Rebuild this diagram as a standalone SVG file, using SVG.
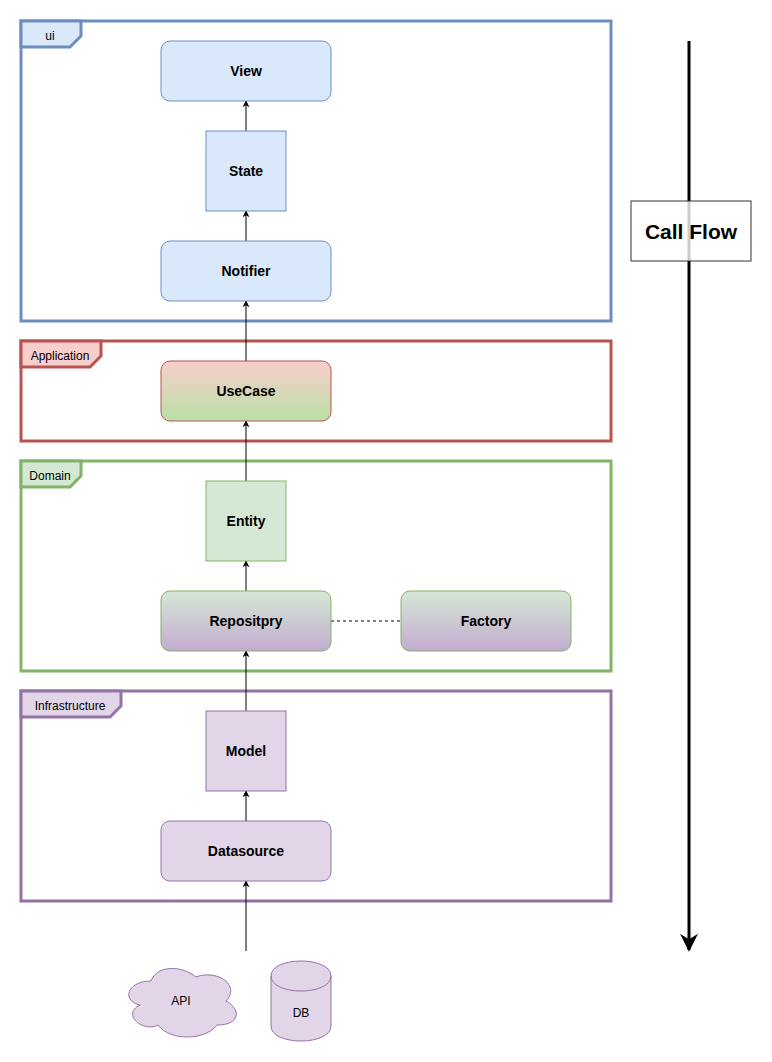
<svg xmlns="http://www.w3.org/2000/svg" width="772" height="1062" viewBox="0 0 772 1062">
<style>
.t{font-family:"Liberation Sans",Arial,sans-serif;font-size:14px;font-weight:bold;fill:#000;text-anchor:middle;dominant-baseline:central}
.tab{font-family:"Liberation Sans",Arial,sans-serif;font-size:12px;fill:#000;text-anchor:middle;dominant-baseline:central}
.n{font-family:"Liberation Sans",Arial,sans-serif;font-size:12px;fill:#000;text-anchor:middle;dominant-baseline:central}
.c{stroke:#000;stroke-width:1;fill:none}
</style>
<defs>
<marker id="ar" viewBox="0 0 10 10" refX="9" refY="5" markerWidth="7" markerHeight="7" markerUnits="userSpaceOnUse" orient="auto">
<path d="M0,0 L10,5 L0,10 L3,5 Z" fill="#000"/>
</marker>
<marker id="big" viewBox="0 0 10 10" refX="9" refY="5" markerWidth="18" markerHeight="18" markerUnits="userSpaceOnUse" orient="auto">
<path d="M0,0 L10,5 L0,10 L3,5 Z" fill="#000"/>
</marker>
<linearGradient id="gUse" x1="0" y1="0" x2="0" y2="1"><stop offset="0" stop-color="#f8cecc"/><stop offset="1" stop-color="#b9e0a5"/></linearGradient>
<linearGradient id="gRep" x1="0" y1="0" x2="0" y2="1"><stop offset="0" stop-color="#d5e8d4"/><stop offset="1" stop-color="#c3abd0"/></linearGradient>
</defs>

<g id="frame-ui">
<rect x="21" y="21" width="590" height="300" fill="none" stroke="#6c8ebf" stroke-width="3"/>
<path d="M21,21 H81 V36 L70,47 H21 Z" fill="#dae8fc" stroke="#6c8ebf" stroke-width="3"/>
<text class="tab" x="50" y="36">ui</text>
</g>
<g id="frame-application">
<rect x="21" y="341" width="590" height="100" fill="none" stroke="#b85450" stroke-width="3"/>
<path d="M21,341 H101 V356 L90,367 H21 Z" fill="#f8cecc" stroke="#b85450" stroke-width="3"/>
<text class="tab" x="60" y="356">Application</text>
</g>
<g id="frame-domain">
<rect x="21" y="461" width="590" height="210" fill="none" stroke="#82b366" stroke-width="3"/>
<path d="M21,461 H81 V476 L70,487 H21 Z" fill="#d5e8d4" stroke="#82b366" stroke-width="3"/>
<text class="tab" x="50" y="476">Domain</text>
</g>
<g id="frame-infrastructure">
<rect x="21" y="691" width="590" height="210" fill="none" stroke="#9673a6" stroke-width="3"/>
<path d="M21,691 H121 V706 L110,717 H21 Z" fill="#e1d5e7" stroke="#9673a6" stroke-width="3"/>
<text class="tab" x="70" y="706">Infrastructure</text>
</g>

<g id="connectors">
<line class="c" x1="246" y1="131" x2="246" y2="101" marker-end="url(#ar)"/>
<line class="c" x1="246" y1="241" x2="246" y2="211" marker-end="url(#ar)"/>
<line class="c" x1="246" y1="361" x2="246" y2="301" marker-end="url(#ar)"/>
<line class="c" x1="246" y1="481" x2="246" y2="421" marker-end="url(#ar)"/>
<line class="c" x1="246" y1="591" x2="246" y2="561" marker-end="url(#ar)"/>
<line class="c" x1="246" y1="711" x2="246" y2="651" marker-end="url(#ar)"/>
<line class="c" x1="246" y1="821" x2="246" y2="791" marker-end="url(#ar)"/>
<line class="c" x1="246" y1="951" x2="246" y2="881" marker-end="url(#ar)"/>
<line class="c" x1="331" y1="621" x2="401" y2="621" stroke-dasharray="3,3"/>
<line x1="689" y1="41" x2="689" y2="950" stroke="#000" stroke-width="3" marker-end="url(#big)"/>
</g>

<g id="view"><rect x="161" y="41" width="170" height="60" rx="9" fill="#dae8fc" stroke="#6c8ebf"/><text class="t" x="246" y="71">View</text></g>
<g id="state"><rect x="206" y="131" width="80" height="80" fill="#dae8fc" stroke="#6c8ebf"/><text class="t" x="246" y="171">State</text></g>
<g id="notifier"><rect x="161" y="241" width="170" height="60" rx="9" fill="#dae8fc" stroke="#6c8ebf"/><text class="t" x="246" y="271">Notifier</text></g>
<g id="usecase"><rect x="161" y="361" width="170" height="60" rx="9" fill="url(#gUse)" stroke="#b85450"/><text class="t" x="246" y="391">UseCase</text></g>
<g id="entity"><rect x="206" y="481" width="80" height="80" fill="#d5e8d4" stroke="#82b366"/><text class="t" x="246" y="521">Entity</text></g>
<g id="repository"><rect x="161" y="591" width="170" height="60" rx="9" fill="url(#gRep)" stroke="#82b366"/><text class="t" x="246" y="621">Repositpry</text></g>
<g id="factory"><rect x="401" y="591" width="170" height="60" rx="9" fill="url(#gRep)" stroke="#82b366"/><text class="t" x="486" y="621">Factory</text></g>
<g id="model"><rect x="206" y="711" width="80" height="80" fill="#e1d5e7" stroke="#9673a6"/><text class="t" x="246" y="751">Model</text></g>
<g id="datasource"><rect x="161" y="821" width="170" height="60" rx="9" fill="#e1d5e7" stroke="#9673a6"/><text class="t" x="246" y="851">Datasource</text></g>

<g id="api">
<path d="M151,981 C127,981 121,1001 140.2,1005 C121,1013.8 142.6,1033 158.2,1025 C169,1041 205,1041 217,1025 C241,1025 241,1009 226,1001 C241,985 217,969 196,977 C181,965 157,965 151,981 Z" fill="#e1d5e7" stroke="#9673a6"/>
<text class="n" x="181" y="1001">API</text>
</g>
<g id="db">
<path d="M271,976 C271,956 331,956 331,976 V1026 C331,1046 271,1046 271,1026 Z" fill="#e1d5e7" stroke="#9673a6"/>
<path d="M271,976 C271,996 331,996 331,976" fill="none" stroke="#9673a6"/>
<text class="n" x="301" y="1013">DB</text>
</g>

<g id="callflow">
<rect x="631" y="201" width="120" height="60" fill="#fff" fill-opacity="0.8" stroke="#333"/>
<text class="t" x="691" y="231" style="font-size:21px">Call Flow</text>
</g>
</svg>
